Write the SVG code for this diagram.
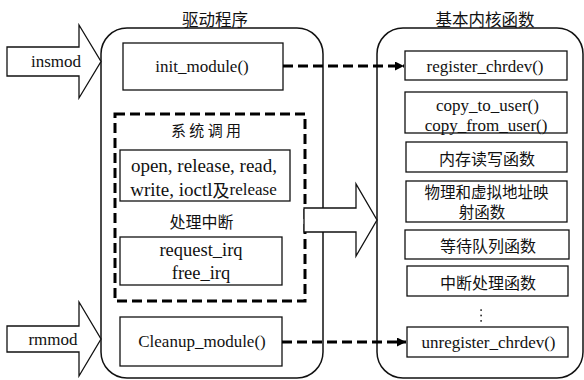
<svg xmlns="http://www.w3.org/2000/svg" width="584" height="380" viewBox="0 0 584 380">
  <defs>
    <marker id="arrowhead" viewBox="0 0 10 10" refX="10" refY="5" markerWidth="9" markerHeight="9" markerUnits="userSpaceOnUse" orient="auto">
      <path d="M0,0 L10,5 L0,10 Z" fill="#000"/>
    </marker>
    <style>
      .container { fill: #fff; stroke: #111; stroke-width: 1.5; }
      .box { fill: #fff; stroke: #111; stroke-width: 1.3; }
      .group { fill: none; stroke: #000; stroke-width: 3; stroke-dasharray: 10 5; }
      .bigarrow { fill: #fff; stroke: #111; stroke-width: 1.3; stroke-linejoin: miter; }
      .link { fill: none; stroke: #000; stroke-width: 3; stroke-dasharray: 10 5; }
      .en { font-family: "Liberation Serif", "Noto Sans CJK SC", serif; font-size: 17px; fill: #111; text-anchor: middle; dominant-baseline: central; }
      .zh { font-family: "Noto Sans CJK SC", sans-serif; font-size: 16px; fill: #111; text-anchor: middle; dominant-baseline: central; }
      .title { font-size: 16.5px; }
      .big { font-size: 19px; }
      .mid { font-size: 18.5px; }
    </style>
  </defs>

  <!-- column titles -->
  <text class="zh title" x="215" y="18.5">驱动程序</text>
  <text class="zh title" x="485" y="18.5">基本内核函数</text>

  <!-- driver program container -->
  <g id="driver">
    <rect class="container" x="101" y="28" width="222" height="350" rx="26" ry="26"/>
  </g>

  <!-- kernel functions container -->
  <g id="kernel">
    <rect class="container" x="377" y="28" width="206" height="350" rx="26" ry="26"/>
  </g>

  <!-- insmod block arrow -->
  <g id="insmod">
    <polygon class="bigarrow" points="7,47 79,47 79,25 101,61.5 79,98 79,76 7,76"/>
    <text class="en" x="56" y="61">insmod</text>
  </g>

  <!-- rmmod block arrow -->
  <g id="rmmod">
    <polygon class="bigarrow" points="7,326 79,326 79,302 101,339 79,376 79,352 7,352"/>
    <text class="en" x="53" y="339">rmmod</text>
  </g>

  <g id="init_module">
    <rect class="box" x="123" y="43" width="160" height="47"/>
    <text class="en" x="202" y="66.5">init_module()</text>
  </g>

  <!-- system call / interrupt group -->
  <g id="syscalls">
    <rect class="group" x="115" y="114" width="190" height="187"/>
    <text class="zh" x="206" y="129" style="font-size:15px">系 统 调 用</text>
  </g>

  <g id="fileops">
    <rect class="box" x="120" y="150" width="170" height="51"/>
    <text class="en big" x="204" y="165">open, release, read,</text>
    <text class="en" x="203.5" y="189"><tspan class="big">write, ioctl</tspan><tspan style="font-family:'Noto Sans CJK SC',sans-serif;font-size:17px">及</tspan><tspan>release</tspan></text>
  </g>

  <g id="irq_title">
    <text class="zh" x="201.5" y="220.5">处理中断</text>
  </g>

  <g id="irq">
    <rect class="box" x="120" y="237" width="162" height="48"/>
    <text class="en mid" x="201" y="250">request_irq</text>
    <text class="en mid" x="201" y="273">free_irq</text>
  </g>

  <g id="cleanup_module">
    <rect class="box" x="120" y="317" width="162" height="49"/>
    <text class="en" x="202" y="341.5">Cleanup_module()</text>
  </g>

  <!-- kernel function boxes -->
  <g id="register_chrdev">
    <rect class="box" x="405" y="51" width="162" height="29"/>
    <text class="en" x="485" y="66">register_chrdev()</text>
  </g>

  <g id="copy_user">
    <rect class="box" x="405" y="92" width="162" height="41"/>
    <text class="en" x="487.5" y="105">copy_to_user()</text>
    <text class="en" x="486" y="125">copy_from_user()</text>
  </g>

  <g id="mem_rw">
    <rect class="box" x="406" y="142" width="161" height="30"/>
    <text class="zh" x="487" y="158">内存读写函数</text>
  </g>

  <g id="addr_map">
    <rect class="box" x="406" y="181" width="161" height="41"/>
    <text class="zh" x="486.5" y="191" style="font-size:15.5px">物理和虚拟地址映</text>
    <text class="zh" x="482" y="211" style="font-size:15.5px">射函数</text>
  </g>

  <g id="wait_queue">
    <rect class="box" x="405" y="230" width="164" height="29"/>
    <text class="zh" x="488" y="245">等待队列函数</text>
  </g>

  <g id="irq_handler">
    <rect class="box" x="407" y="266" width="161" height="30"/>
    <text class="zh" x="488" y="281.5">中断处理函数</text>
  </g>

  <g id="ellipsis">
    <rect x="480.3" y="309.3" width="1.6" height="1.6" fill="#222"/>
    <rect x="480.3" y="314.7" width="1.6" height="1.6" fill="#222"/>
    <rect x="480.3" y="320.1" width="1.6" height="1.6" fill="#222"/>
  </g>

  <g id="unregister_chrdev">
    <rect class="box" x="407" y="327" width="161" height="30"/>
    <text class="en" x="488.5" y="342">unregister_chrdev()</text>
  </g>

  <!-- connectors -->
  <g id="connectors">
    <path class="link" d="M283,66 L404,66" marker-end="url(#arrowhead)"/>
    <path class="link" d="M282,342 L406,342" marker-end="url(#arrowhead)"/>
    <polygon class="bigarrow" points="304,208 356,208 356,184 377,220 356,256 356,232 304,232"/>
  </g>
</svg>
